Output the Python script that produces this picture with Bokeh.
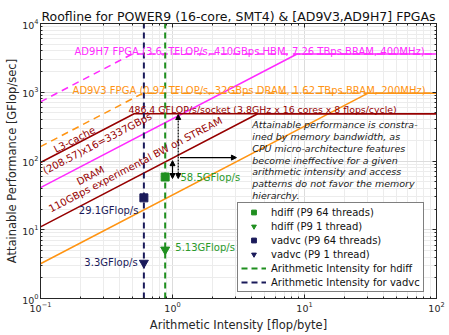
import math
from bokeh.plotting import figure
from bokeh.models import (LogAxis, LogTicker, Arrow, NormalHead, Legend, LegendItem,
                          CustomJSTickFormatter, Range1d)
from bokeh.core.properties import value
from bokeh.embed import file_html
from bokeh.resources import INLINE

FONT = "DejaVu Sans"

# ---------------- data ----------------
x_lo, x_hi = 0.1, 100.0
y_lo, y_hi = 1.0, 10000.0

# POWER9 socket
p9_peak = 486.4
p9_l3_bw = 950.0        # L3 roof as drawn
p9_dram_bw = 110.0
# AD9H7 FPGA
h7_peak = 3600.0
h7_hbm_bw = 410.0
h7_bram_bw = 7260.0
# AD9V3 FPGA
v3_peak = 970.0
v3_dram_bw = 32.0
v3_bram_bw = 1620.0

# kernels
ai_hdiff = 0.88
ai_vadvc = 0.607
hdiff_64 = 58.5
hdiff_1 = 5.13
vadvc_64 = 29.1
vadvc_1 = 3.3

TITLE = "Roofline for POWER9 (16-core, SMT4) & [AD9V3,AD9H7] FPGAs"
H7_TEXT = "AD9H7 FPGA (3.6, TFLOP/s, 410GBps HBM, 7.26 TBps BRAM, 400MHz)"
V3_TEXT = "AD9V3 FPGA (0.97 TFLOP/s, 32GBps DRAM, 1.62 TBps BRAM, 200MHz)"
P9_TEXT = "486.4 GFLOP/s/socket (3.8GHz x 16 cores x 8 flops/cycle)"
NOTE = ("Attainable performance is constra-\nined by memory bandwidth, as\n"
        "CPU micro-architecture features\nbecome ineffective for a given\n"
        "arithmetic intensity and access\npatterns do not favor the memory\nhierarchy.")

MAG = "#ff2bff"
ORA = "#ff9412"
RED = "#960000"
GRN = "#1f8f1f"
NAV = "#1a1a5a"
INK = "#262626"

FRAME_W, FRAME_H = 396, 275
ANG = math.atan2(FRAME_H / math.log10(y_hi / y_lo), FRAME_W / math.log10(x_hi / x_lo))


def roof(bw, peak):
    ridge = peak / bw
    return [x_lo, ridge, x_hi], [bw * x_lo, peak, peak]


p = figure(width=449, height=335, x_axis_type="log", y_axis_type="log",
           x_range=Range1d(x_lo, x_hi), y_range=Range1d(y_lo, y_hi),
           output_backend="svg", toolbar_location=None,
           min_border_left=40, min_border_right=13, min_border_top=23, min_border_bottom=37,
           title=TITLE)

p.title.align = "center"
p.title.text_font = FONT
p.title.text_font_size = "12.5px"
p.title.text_font_style = "normal"
p.title.text_color = "#111111"
p.title.standoff = 0
p.outline_line_color = INK
p.outline_line_width = 1

xt = LogTicker(mantissas=[1], desired_num_ticks=4, num_minor_ticks=10)
yt = LogTicker(mantissas=[1], desired_num_ticks=5, num_minor_ticks=10)
p.xaxis.ticker = xt
p.yaxis.ticker = yt
p.xgrid.ticker = xt
p.ygrid.ticker = yt

for g in (p.xgrid, p.ygrid):
    g.grid_line_color = "#dcdcdc"
    g.minor_grid_line_color = "#ececec"

for ax in (p.xaxis, p.yaxis):
    ax.axis_line_color = INK
    ax.major_tick_in = 4
    ax.major_tick_out = 0
    ax.minor_tick_in = 2
    ax.minor_tick_out = 0
    ax.major_tick_line_color = INK
    ax.minor_tick_line_color = INK
    ax.major_label_text_font = FONT
    ax.major_label_text_font_size = "9.5px"
    ax.major_label_text_color = INK
    ax.axis_label_text_font = FONT
    ax.axis_label_text_font_size = "11.5px"
    ax.axis_label_text_font_style = "normal"
    ax.axis_label_text_color = INK
p.xaxis.axis_label = "Arithmetic Intensity [flop/byte]"
p.yaxis.axis_label = "Attainable Performance [GFlop/sec]"
p.xaxis.major_label_standoff = 3
p.xaxis.axis_label_standoff = 3
p.yaxis.major_label_standoff = 2
p.yaxis.axis_label_standoff = 0

blank = CustomJSTickFormatter(code="return ''")
for loc, tk in (("above", xt), ("right", yt)):
    a = LogAxis(ticker=tk, formatter=blank, major_tick_in=4, major_tick_out=0,
                minor_tick_in=2, minor_tick_out=0, major_label_standoff=0,
                major_label_text_font_size="1px",
                axis_line_color=INK, major_tick_line_color=INK, minor_tick_line_color=INK)
    p.add_layout(a, loc)

# ---------------- rooflines ----------------
xs, ys = roof(h7_bram_bw, h7_peak)
p.line(xs, ys, line_color=MAG, line_width=1.5, line_dash="7 5")
xs, ys = roof(h7_hbm_bw, h7_peak)
p.line(xs, ys, line_color=MAG, line_width=1.5)
xs, ys = roof(v3_bram_bw, v3_peak)
p.line(xs, ys, line_color=ORA, line_width=1.5, line_dash="7 5")
xs, ys = roof(v3_dram_bw, v3_peak)
p.line(xs, ys, line_color=ORA, line_width=1.5)
xs, ys = roof(p9_l3_bw, p9_peak)
p.line(xs, ys, line_color=RED, line_width=1.5)
xs, ys = roof(p9_dram_bw, p9_peak)
p.line(xs, ys, line_color=RED, line_width=1.5)

# arithmetic intensity verticals
r_ai_v = p.line([ai_vadvc, ai_vadvc], [y_lo, y_hi], line_color=NAV, line_width=2, line_dash="6 4")
r_ai_h = p.line([ai_hdiff, ai_hdiff], [y_lo, y_hi], line_color=GRN, line_width=2, line_dash="6 4")

# roof labels
common = dict(text_font=value(FONT), text_font_size="10px")
p.text(x=[0.181], y=[h7_peak], text=[H7_TEXT], text_color=MAG, text_align="left",
       text_baseline="alphabetic", y_offset=-3, **common)
p.text(x=[0.175], y=[v3_peak], text=[V3_TEXT], text_color=ORA, text_align="left",
       text_baseline="alphabetic", y_offset=-3, **common)
p.text(x=[0.464], y=[p9_peak], text=[P9_TEXT], text_color=RED, text_align="left",
       text_baseline="alphabetic", y_offset=-4, text_font=value(FONT), text_font_size="9.4px")

p.text(x=[0.181], y=[205], text=["L3-cache"], text_color=RED, angle=ANG,
       text_align="center", text_baseline="middle", **common)
p.text(x=[0.270], y=[180], text=["(208.57)x16=3337GBps"], text_color=RED, angle=ANG,
       text_align="center", text_baseline="middle", **common)
p.text(x=[0.239], y=[61.5], text=["DRAM"], text_color=RED, angle=ANG,
       text_align="center", text_baseline="middle", **common)
p.text(x=[0.525], y=[88.9], text=["110GBps experimental BW on STREAM"], text_color=RED,
       angle=ANG, text_align="center", text_baseline="middle", **common)

# note
p.text(x=[4.02], y=[405], text=[NOTE], text_color="#1a1a1a", text_font_style="italic",
       text_align="left", text_baseline="top", text_line_height=1.07,
       text_font=value(FONT), text_font_size="9.5px")

# arrows
head = dict(size=5, fill_color="black", line_color="black")
p.add_layout(Arrow(x_start=1.0, y_start=101, x_end=1.0, y_end=55.6,
                   start=NormalHead(**head), end=NormalHead(**head), line_width=1.2))
p.add_layout(Arrow(x_start=1.105, y_start=474, x_end=1.105, y_end=55.6,
                   start=NormalHead(**head), end=NormalHead(**head), line_width=1.2,
                   line_dash="2 1"))
p.add_layout(Arrow(x_start=1.14, y_start=112, x_end=3.05, y_end=112,
                   end=NormalHead(**head), line_width=1.2))

# kernel points
r_h64 = p.scatter([ai_hdiff], [hdiff_64], marker="square", size=8, fill_color=GRN, line_color=GRN)
r_h1 = p.scatter([ai_hdiff], [hdiff_1], marker="inverted_triangle", size=9, fill_color=GRN, line_color=GRN)
r_v64 = p.scatter([ai_vadvc], [vadvc_64], marker="square", size=8, fill_color=NAV, line_color=NAV)
r_v1 = p.scatter([ai_vadvc], [vadvc_1], marker="inverted_triangle", size=9, fill_color=NAV, line_color=NAV)

p.text(x=[1.15], y=[hdiff_64], text=["%.1fGFlop/s" % hdiff_64], text_color="#2a9a2a",
       text_align="left", text_baseline="middle", **common)
p.text(x=[1.05], y=[5.6], text=["%.2fGFlop/s" % hdiff_1], text_color="#2a9a2a",
       text_align="left", text_baseline="middle", **common)
p.text(x=[0.552], y=[19.1], text=["%.1fGFlop/s" % vadvc_64], text_color=NAV,
       text_align="right", text_baseline="middle", **common)
p.text(x=[0.544], y=[vadvc_1], text=["%.1fGFlop/s" % vadvc_1], text_color=NAV,
       text_align="right", text_baseline="middle", **common)

legend = Legend(items=[
    LegendItem(label="hdiff (P9 64 threads)", renderers=[r_h64]),
    LegendItem(label="hdiff (P9 1 thread)", renderers=[r_h1]),
    LegendItem(label="vadvc (P9 64 threads)", renderers=[r_v64]),
    LegendItem(label="vadvc (P9 1 thread)", renderers=[r_v1]),
    LegendItem(label="Arithmetic Intensity for hdiff", renderers=[r_ai_h]),
    LegendItem(label="Arithmetic Intensity for vadvc", renderers=[r_ai_v]),
], location=(197, 6))
legend.border_line_color = "black"
legend.border_line_width = 1
legend.background_fill_color = "white"
legend.background_fill_alpha = 1
legend.padding = 3
legend.spacing = 2
legend.margin = 0
legend.label_height = 12
legend.glyph_height = 12
legend.glyph_width = 25
legend.label_standoff = 5
legend.label_text_line_height = 1.0
legend.label_text_font = FONT
legend.label_text_font_size = "10px"
legend.label_text_color = "#111111"
p.add_layout(legend, "center")

open("out.html", "w").write(file_html(p, INLINE))
